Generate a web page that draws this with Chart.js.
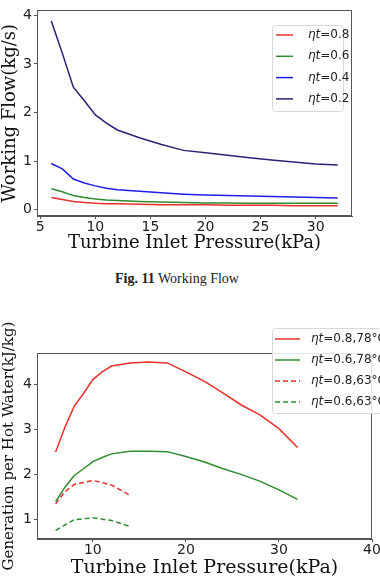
<!DOCTYPE html>
<html>
<head>
<meta charset="utf-8">
<script src="https://cdn.jsdelivr.net/npm/chart.js@4"></script>
<style>
  html, body { margin:0; padding:0; background:#fff; overflow:hidden; width:380px; height:583px; }
  #top { position:absolute; left:0; top:0; }
  #bot { position:absolute; left:0; top:300px; }
  .cap { position:absolute; left:0; width:354px; top:271px; text-align:center;
         font-family:"Liberation Serif", serif; font-size:14px; color:#222; }
  .cap b { font-weight:bold; }
</style>
</head>
<body>
<canvas id="top" width="380" height="254"></canvas>
<div class="cap"><b>Fig. 11</b> Working Flow</div>
<canvas id="bot" width="400" height="279"></canvas>
<script>
// --- data: Fig 11 working flow ---
const xsTop   = [6, 7, 8, 9, 10, 11, 12, 14, 16, 18, 20, 22, 24, 26, 28, 30, 32];
const flow08  = [0.25, 0.21, 0.17, 0.15, 0.13, 0.12, 0.12, 0.11, 0.10, 0.10, 0.10, 0.09, 0.09, 0.09, 0.08, 0.08, 0.08];
const flow06  = [0.43, 0.37, 0.29, 0.25, 0.22, 0.20, 0.19, 0.17, 0.16, 0.15, 0.14, 0.14, 0.13, 0.13, 0.13, 0.13, 0.13];
const flow04  = [0.95, 0.84, 0.63, 0.55, 0.49, 0.44, 0.41, 0.38, 0.35, 0.32, 0.30, 0.29, 0.28, 0.27, 0.26, 0.25, 0.24];
const flow02  = [3.88, 3.22, 2.52, 2.24, 1.95, 1.78, 1.64, 1.48, 1.34, 1.22, 1.17, 1.12, 1.07, 1.02, 0.98, 0.94, 0.92];
const topXTicks = [5, 10, 15, 20, 25, 30];
const topYTicks = [0, 1, 2, 3, 4];

// --- data: generation per hot water ---
const xsBot    = [6, 7, 8, 9, 10, 11, 12, 14, 16, 18, 20, 22, 24, 26, 28, 30, 32];
const gen08_78 = [2.50, 3.05, 3.52, 3.80, 4.11, 4.28, 4.41, 4.48, 4.50, 4.48, 4.28, 4.07, 3.81, 3.54, 3.32, 3.02, 2.60];
const gen06_78 = [1.40, 1.72, 1.98, 2.13, 2.29, 2.38, 2.46, 2.52, 2.52, 2.51, 2.40, 2.28, 2.13, 2.00, 1.85, 1.66, 1.45];
const xsShort  = [6, 7, 8, 10, 12, 14];
const gen08_63 = [1.35, 1.62, 1.78, 1.87, 1.77, 1.54];
const gen06_63 = [0.76, 0.88, 1.00, 1.04, 0.98, 0.85];
const botXTicks = [10, 20, 30, 40];
const botYTicks = [1, 2, 3, 4];

const RED = '#e8302c', GREEN = '#2e8b2e', BLUE = '#1f1fe6', NAVY = '#2a2272';
const SANS = '"DejaVu Sans", sans-serif';
const SERIF = '"DejaVu Serif", serif';

const pts = (xs, ys) => xs.map((x, i) => ({ x, y: ys[i] }));
const fixTicks = list => scale => { scale.ticks = list.map(v => ({ value: v })); };

// frame round the plot area (matplotlib spines)
const frame = {
  id: 'frame',
  afterDatasetsDraw(chart){
    const { ctx, chartArea: a } = chart;
    ctx.save();
    ctx.strokeStyle = '#555'; ctx.lineWidth = 1;
    ctx.strokeRect(Math.round(a.left) + 0.5, Math.round(a.top) + 0.5,
                   Math.round(a.right - a.left) - 1, Math.round(a.bottom - a.top) - 1);
    ctx.restore();
  }
};

// legend box drawn inside / over the axes
const boxLegend = {
  id: 'boxLegend',
  afterDraw(chart, args, o){
    const { ctx } = chart;
    ctx.save();
    ctx.fillStyle = 'rgba(255,255,255,0.85)';
    ctx.strokeStyle = '#d8d8d8'; ctx.lineWidth = 1;
    ctx.beginPath();
    ctx.roundRect(o.x + 0.5, o.y + 0.5, o.w, o.h, 3);
    ctx.fill(); ctx.stroke();
    chart.data.datasets.forEach((ds, i) => {
      const y = o.y + o.first + i * o.row;
      ctx.strokeStyle = ds.borderColor; ctx.lineWidth = 1.5;
      ctx.setLineDash(ds.borderDash || []);
      ctx.beginPath(); ctx.moveTo(o.x + o.l0, y); ctx.lineTo(o.x + o.l1, y); ctx.stroke();
      ctx.setLineDash([]);
      ctx.fillStyle = '#222'; ctx.textBaseline = 'middle';
      let tx = o.x + o.tx;
      ctx.font = 'italic 12px ' + SANS;
      ctx.fillText('ηt', tx, y);
      tx += ctx.measureText('ηt').width;
      ctx.font = '12px ' + SANS;
      ctx.fillText(ds.label.replace('ηt', ''), tx, y);
    });
    ctx.restore();
  }
};

function axes(xTicks, yTicks, xMin, xMax, yMin, yMax, xTitle, yTitle, xTitleSize, yTitleSize, yW, xH){
  const grid = { drawOnChartArea: false, drawTicks: true, tickLength: 3, color: '#555' };
  return {
    x: {
      type: 'linear', min: xMin, max: xMax,
      afterBuildTicks: fixTicks(xTicks),
      afterFit: s => { s.height = xH; },
      grid, border: { display: true, color: '#555' },
      ticks: { font: { family: SANS, size: 14 }, color: '#222', padding: 0, maxRotation: 0 },
      title: { display: true, text: xTitle, font: { family: SERIF, size: xTitleSize }, color: '#111', padding: { top: 0, bottom: 0 } }
    },
    y: {
      type: 'linear', min: yMin, max: yMax,
      afterBuildTicks: fixTicks(yTicks),
      afterFit: s => { s.width = yW; },
      grid, border: { display: true, color: '#555' },
      ticks: { font: { family: SANS, size: 14 }, color: '#222', padding: 2 },
      title: { display: true, text: yTitle, font: { family: SERIF, size: yTitleSize }, color: '#111', padding: { top: 0, bottom: 0 } }
    }
  };
}

const line = (label, data, color, dash) => ({
  label, data, borderColor: color, borderWidth: 1.5, borderDash: dash || [],
  pointRadius: 0, tension: 0, fill: false
});

new Chart(document.getElementById('top'), {
  type: 'line',
  data: { datasets: [
    line('ηt=0.8', pts(xsTop, flow08), RED),
    line('ηt=0.6', pts(xsTop, flow06), GREEN),
    line('ηt=0.4', pts(xsTop, flow04), BLUE),
    line('ηt=0.2', pts(xsTop, flow02), NAVY)
  ]},
  options: {
    responsive: false, animation: false, devicePixelRatio: 1,
    layout: { padding: { top: 7, right: 28, left: 0, bottom: 0 } },
    plugins: {
      legend: { display: false }, tooltip: { enabled: false },
      boxLegend: { x: 272, y: 25, w: 71, h: 86, first: 10, row: 21.3, l0: 4, l1: 21, tx: 36 }
    },
    scales: axes(topXTicks, topYTicks, 4.7, 33.3, -0.13, 4.1,
                 'Turbine Inlet Pressure(kPa)', 'Working Flow(kg/s)', 18, 18, 37, 38)
  },
  plugins: [frame, boxLegend]
});

new Chart(document.getElementById('bot'), {
  type: 'line',
  data: { datasets: [
    line('ηt=0.8,78°C', pts(xsBot, gen08_78), RED),
    line('ηt=0.6,78°C', pts(xsBot, gen06_78), GREEN),
    line('ηt=0.8,63°C', pts(xsShort, gen08_63), RED, [5, 3]),
    line('ηt=0.6,63°C', pts(xsShort, gen06_63), GREEN, [5, 3])
  ]},
  options: {
    responsive: false, animation: false, devicePixelRatio: 1,
    layout: { padding: { top: 53, right: 28, left: 0, bottom: 0 } },
    plugins: {
      legend: { display: false }, tooltip: { enabled: false },
      boxLegend: { x: 272, y: 28, w: 140, h: 85, first: 11, row: 21, l0: 3, l1: 28, tx: 39 }
    },
    scales: axes(botXTicks, botYTicks, 4, 40, 0.57, 4.7,
                 'Turbine Inlet Pressure(kPa)', 'Generation per Hot Water(kJ/kg)', 19, 15, 37, 40)
  },
  plugins: [frame, boxLegend]
});
</script>
</body>
</html>
